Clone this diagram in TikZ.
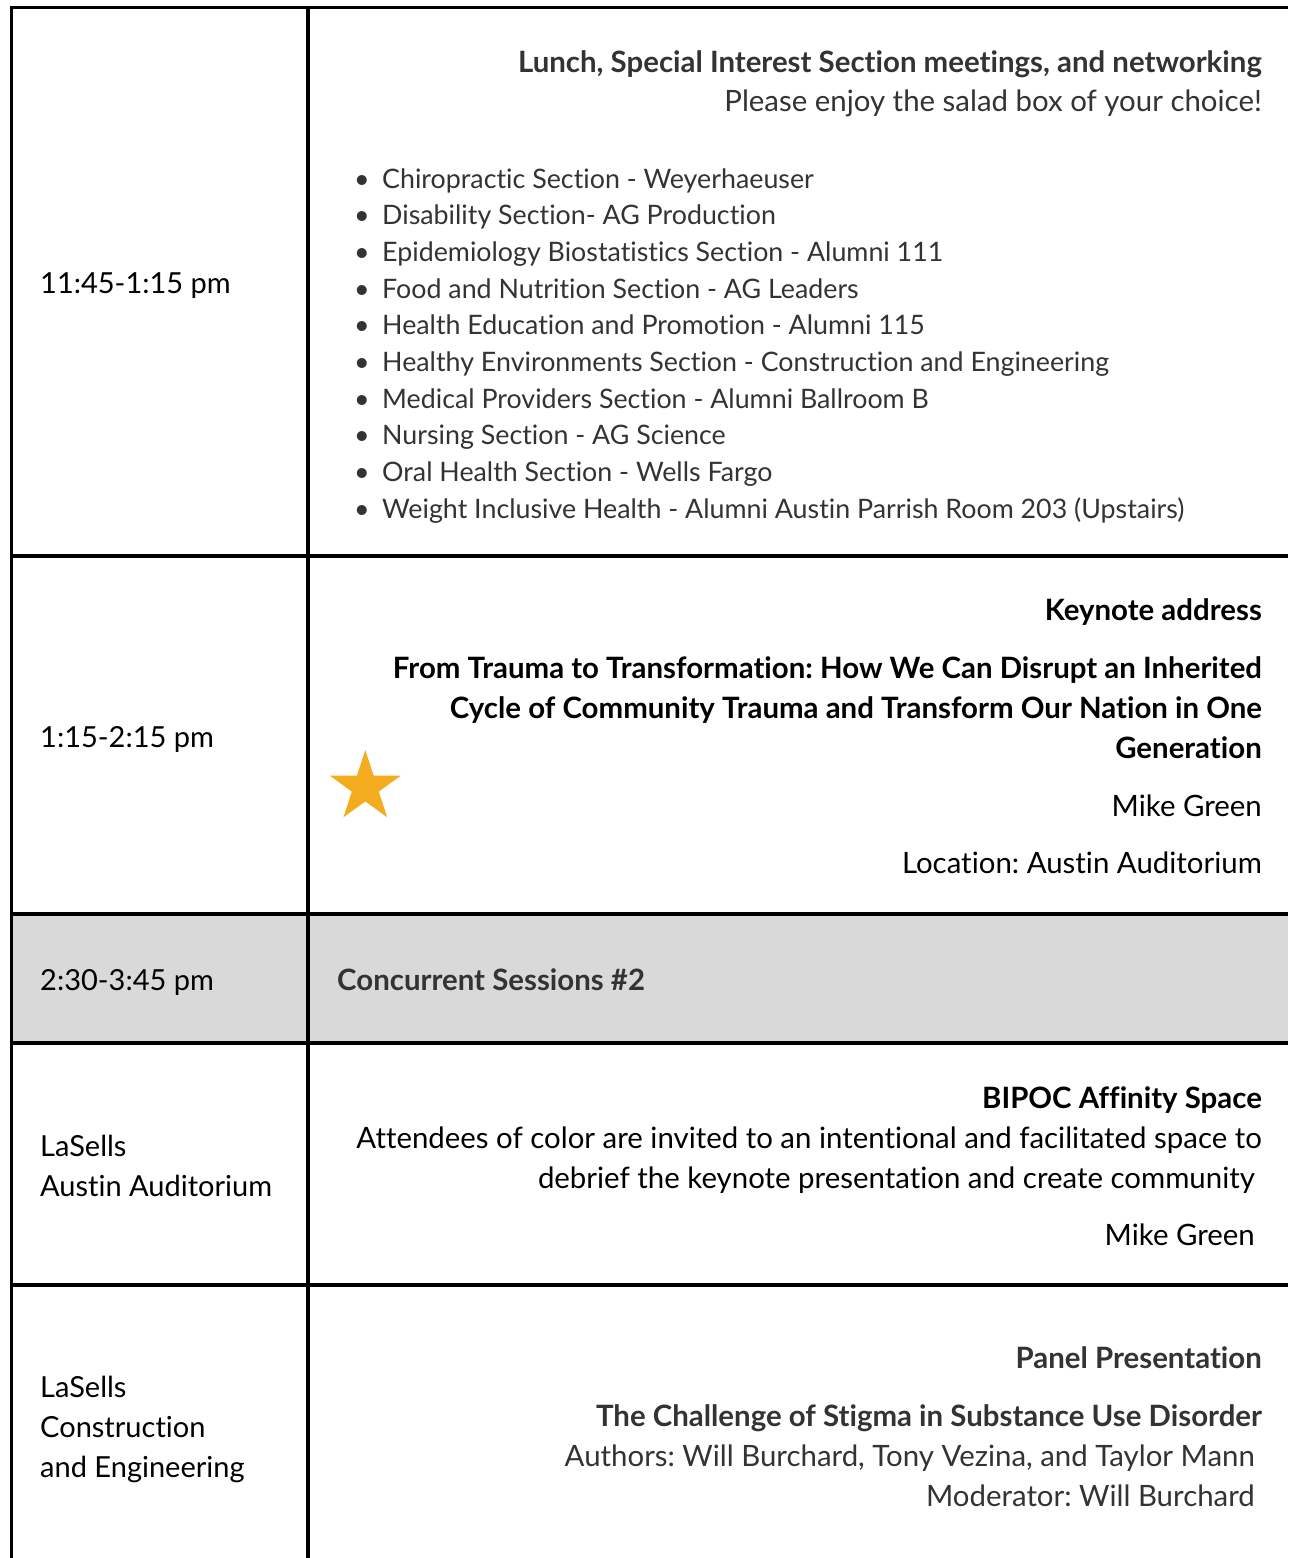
\documentclass[tikz,border=0pt]{standalone}
\usepackage{fontspec}
\setmainfont{Lato}[Ligatures=CommonOff]
\usetikzlibrary{shapes.geometric}
\definecolor{rule}{HTML}{000000}
\definecolor{band}{HTML}{D9D9D9}
\definecolor{starcol}{HTML}{F2AC1E}
\definecolor{soft}{HTML}{333333}
\tikzset{
  grid/.style={draw=rule, line width=3.5pt},
  lefttxt/.style={anchor=base west, inner sep=0pt, text=black, font=\fontsize{29}{40}\selectfont},
  righttxt/.style={anchor=base east, inner sep=0pt, font=\fontsize{29.4}{40}\selectfont},
  righttitle/.style={righttxt, font=\fontsize{29.4}{40}\selectfont\bfseries},
  bullettxt/.style={anchor=base west, inner sep=0pt, text=soft, font=\fontsize{26.8}{36}\selectfont},
  bulletdot/.style={anchor=base, inner sep=0pt, text=soft, font=\fontsize{26.8}{36}\selectfont},
}
\frenchspacing
\begin{document}
\frenchspacing
\begin{tikzpicture}[x=1pt,y=-1pt]
\useasboundingbox (0,0) rectangle (1288,1558);
% gray band
\fill[band] (11.5,914) rectangle (1288,1043);
% grid
\coordinate (tl) at (11.5,7.5);
\coordinate (tr) at (1288,7.5);
\coordinate (bl) at (11.5,1558);
\coordinate (mt) at (308,7.5);
\coordinate (mb) at (308,1558);
\draw[grid] (tl) -- (tr);
\draw[grid] (11.5,5.75) -- (bl);
\draw[grid] (mt) -- (mb);
\foreach \yy in {556,914,1043,1285} {\draw[grid] (9.75,\yy) -- (1288,\yy);}

% row 1
\node[lefttxt] (t1) at (40,293) {11:45-1:15 pm};
\node[righttitle, text=soft] (h1) at (1262,72) {Lunch, Special Interest Section meetings, and networking};
\node[righttxt, text=soft] (s1) at (1262,111) {Please enjoy the salad box of your choice!};
\foreach \txt [count=\i from 0] in {
  Chiropractic Section - Weyerhaeuser,
  Disability Section- AG Production,
  Epidemiology Biostatistics Section - Alumni 111,
  Food and Nutrition Section - AG Leaders,
  Health Education and Promotion - Alumni 115,
  Healthy Environments Section - Construction and Engineering,
  Medical Providers Section - Alumni Ballroom B,
  Nursing Section - AG Science,
  Oral Health Section - Wells Fargo,
  Weight Inclusive Health - Alumni Austin Parrish Room 203 (Upstairs)} {
  \node[bulletdot] (d\i) at (362,{188+36.7*\i}) {•};
  \node[bullettxt] (b\i) at (382,{188+36.7*\i}) {\txt};
}

% row 2
\node[lefttxt] (t2) at (40,747) {1:15-2:15 pm};
\node[righttitle, text=black] (h2) at (1262,620) {Keynote address};
\node[righttitle, text=black] (k1) at (1262,678) {From Trauma to Transformation: How We Can Disrupt an Inherited};
\node[righttitle, text=black] (k2) at (1262,718) {Cycle of Community Trauma and Transform Our Nation in One};
\node[righttitle, text=black] (k3) at (1262,758) {Generation};
\node[righttxt, text=black] (k4) at (1262,816) {Mike Green};
\node[righttxt, text=black] (k5) at (1262,873) {Location: Austin Auditorium};
\node[star, star points=5, star point ratio=2.618, minimum size=74.4pt, inner sep=0pt, fill=starcol, draw=none] (star) at (365.3,787.2) {};

% row 3
\node[lefttxt] (t3) at (40,990) {2:30-3:45 pm};
\node[anchor=base west, inner sep=0pt, text=soft, font=\fontsize{29.4}{40}\selectfont\bfseries] (c3) at (337,990) {Concurrent Sessions \#2};

% row 4
\node[lefttxt] (t4a) at (40,1156) {LaSells};
\node[lefttxt] (t4b) at (40,1196) {Austin Auditorium};
\node[righttitle, text=black] (h4) at (1262,1108) {BIPOC Affinity Space};
\node[righttxt, text=black] (p4a) at (1262,1148) {Attendees of color are invited to an intentional and facilitated space to};
\node[righttxt, text=black] (p4b) at (1255,1188) {debrief the keynote presentation and create community};
\node[righttxt, text=black] (p4c) at (1255,1245) {Mike Green};

% row 5
\node[lefttxt] (t5a) at (40,1397) {LaSells};
\node[lefttxt] (t5b) at (40,1437) {Construction};
\node[lefttxt] (t5c) at (40,1477) {and Engineering};
\node[righttitle, text=soft] (h5) at (1262,1368) {Panel Presentation};
\node[righttitle, text=soft] (p5a) at (1262,1426) {The Challenge of Stigma in Substance Use Disorder};
\node[righttxt, text=soft] (p5b) at (1255,1466) {Authors: Will Burchard, Tony Vezina, and Taylor Mann};
\node[righttxt, text=soft] (p5c) at (1255,1506) {Moderator: Will Burchard};
\end{tikzpicture}
\end{document}
